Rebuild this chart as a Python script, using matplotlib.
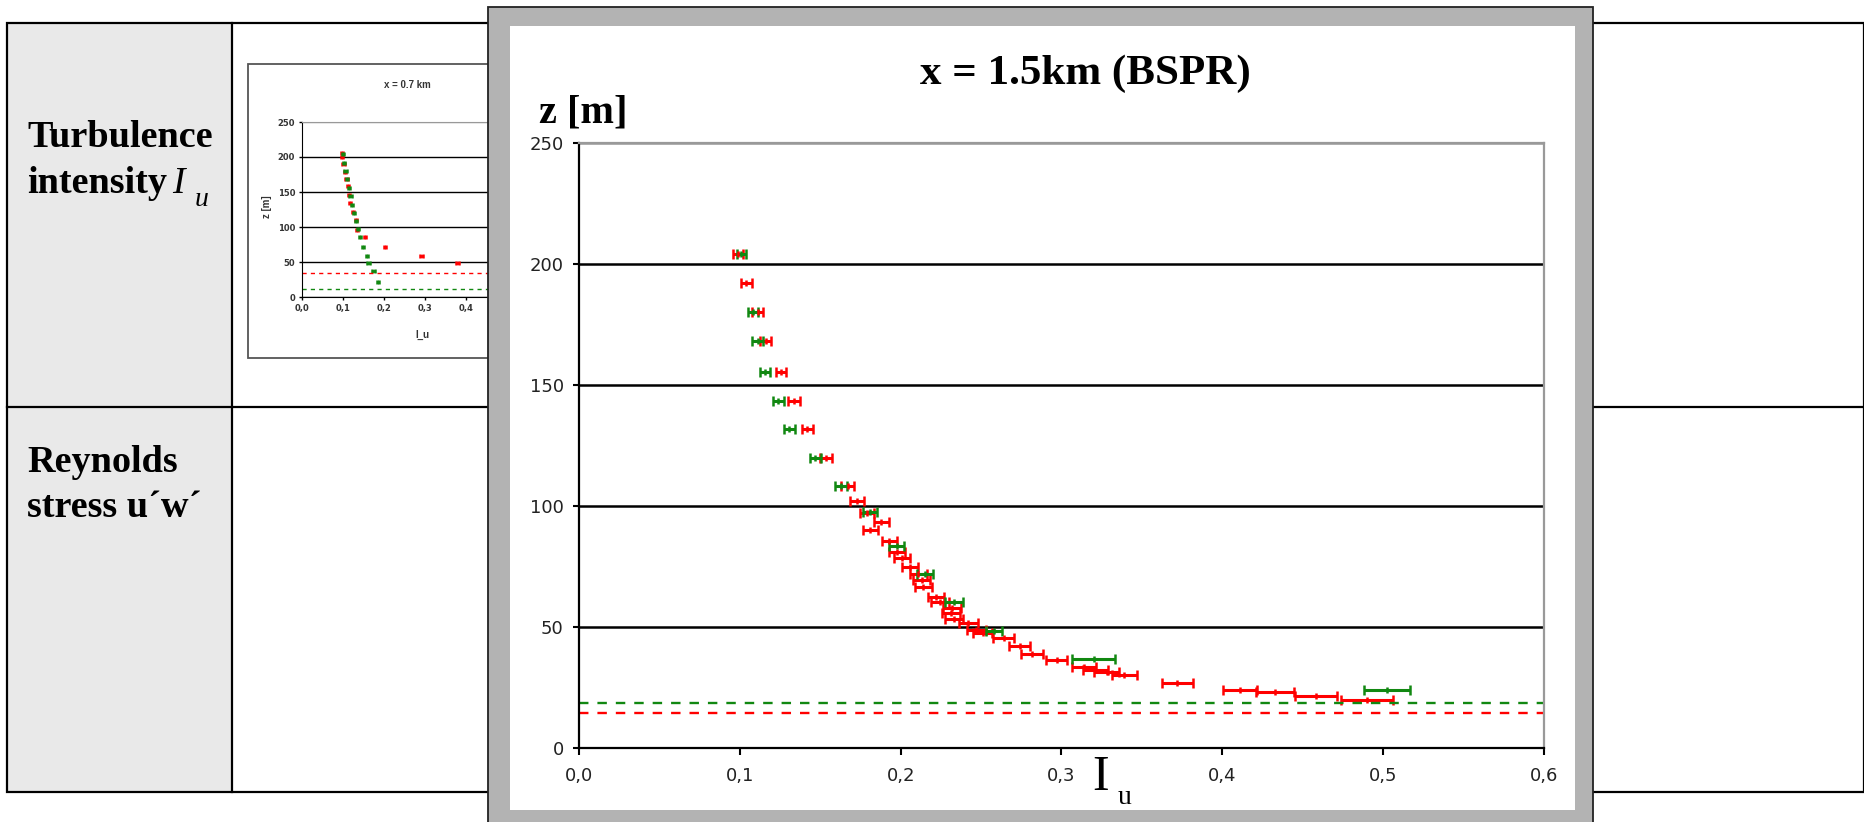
import numpy as np
import matplotlib
matplotlib.use('Agg')
import matplotlib.pyplot as plt
from matplotlib.patches import Rectangle
from matplotlib.ticker import FuncFormatter

# main chart: x = 1.5 km (BSPR), turbulence intensity profile
red_z = [204, 192, 180, 168, 155.5, 143.5, 132, 120, 108.4, 102, 97, 93.5, 90, 85.5,
         81, 78.4, 75, 71.8, 69.4, 66.7, 62.5, 60.5, 58, 55.6, 53.2, 51.5, 48.8, 47.5,
         45.5, 42, 39, 36.5, 33.3, 32.4, 31.5, 30.2, 27, 24, 23.3, 21.6, 19.8]
red_iu = [0.099, 0.104, 0.111, 0.116, 0.1256, 0.1337, 0.142, 0.1536, 0.167, 0.173, 0.179,
          0.188, 0.181, 0.193, 0.1975, 0.2006, 0.206, 0.211, 0.213, 0.214, 0.222, 0.2245,
          0.232, 0.231, 0.233, 0.242, 0.247, 0.251, 0.264, 0.274, 0.2815, 0.297, 0.314,
          0.321, 0.328, 0.339, 0.372, 0.411, 0.433, 0.458, 0.490]
red_err = [0.003, 0.0033, 0.0033, 0.0034, 0.0034, 0.0035, 0.0036, 0.0037, 0.004, 0.0045,
           0.0045, 0.0048, 0.0046, 0.0048, 0.005, 0.005, 0.005, 0.0052, 0.0052, 0.0053,
           0.0052, 0.0055, 0.0056, 0.0056, 0.0056, 0.006, 0.006, 0.006, 0.0063, 0.0067,
           0.0068, 0.0066, 0.0075, 0.0078, 0.008, 0.0077, 0.0095, 0.0106, 0.0118, 0.013, 0.016]

green_z = [204, 180, 168, 155.5, 143.5, 132, 120, 108.4, 97.5, 83.5, 71.8, 60.5, 48.5, 36.8, 24]
green_iu = [0.101, 0.108, 0.111, 0.1157, 0.124, 0.1306, 0.147, 0.163, 0.181, 0.1975, 0.215,
            0.233, 0.258, 0.320, 0.5025]
green_err = [0.003, 0.003, 0.0033, 0.0033, 0.0033, 0.0034, 0.0035, 0.0037, 0.0042, 0.0048,
             0.005, 0.0055, 0.0052, 0.0135, 0.0144]

red_height = 14.3
green_height = 18.6

x_ticks = [0.0, 0.1, 0.2, 0.3, 0.4, 0.5, 0.6]
z_ticks = [0, 50, 100, 150, 200, 250]

# thumbnail: x = 0.7 km
thumb_red_z = [205, 200, 190, 179, 168, 158, 146, 134, 122, 110, 96, 86, 71, 59, 48]
thumb_red_iu = [0.097, 0.098, 0.101, 0.105, 0.108, 0.112, 0.115, 0.117, 0.125, 0.132,
                0.134, 0.154, 0.202, 0.292, 0.379]
thumb_green_z = [204, 192, 180, 168, 156, 144, 132, 120, 108, 97, 86, 71, 58, 48, 37, 22]
thumb_green_iu = [0.100, 0.103, 0.106, 0.110, 0.114, 0.118, 0.122, 0.127, 0.132, 0.137,
                  0.141, 0.149, 0.158, 0.162, 0.174, 0.185]
thumb_red_height = 34
thumb_green_height = 11

RED = '#ff0000'
GREEN = '#118811'
W, H = 1865, 822


def comma_fmt(x, pos):
  return f'{x:.1f}'.replace('.', ',')


def fig_rect(left, top, right, bottom):
  # pixel box (from top-left) -> figure fraction
  return [left / W, 1 - bottom / H, (right - left) / W, (bottom - top) / H]


def pixel_axes(fig, zorder):
  ax = fig.add_axes([0, 0, 1, 1], zorder=zorder)
  ax.set_xlim(0, W)
  ax.set_ylim(H, 0)
  ax.axis('off')
  ax.patch.set_visible(False)
  return ax


def draw_table(ax):
  ax.add_patch(Rectangle((7, 23), 225, 769, facecolor='#e9e9e9', edgecolor='none'))
  ax.add_patch(Rectangle((7, 23), 1857, 769, facecolor='none', edgecolor='black', lw=1.6))
  ax.plot([7, 1864], [407, 407], color='black', lw=1.6)
  ax.plot([232, 232], [23, 792], color='black', lw=1.6)

  serif = 'Liberation Serif'
  ax.text(27, 147, 'Turbulence', family=serif, weight='bold', fontsize=27.5, va='baseline')
  ax.text(27, 193, 'intensity', family=serif, weight='bold', fontsize=27.5, va='baseline')
  ax.text(172, 193, 'I', family=serif, style='italic', fontsize=27, va='baseline')
  ax.text(195, 206, 'u', family=serif, style='italic', fontsize=20, va='baseline')
  ax.text(27, 472, 'Reynolds', family=serif, weight='bold', fontsize=27.5, va='baseline')
  ax.text(27, 517, 'stress u\u00b4w\u00b4', family=serif, weight='bold', fontsize=27.5, va='baseline')

  # thumbnail frame
  ax.add_patch(Rectangle((248, 64), 400, 294, facecolor='white', edgecolor='#555555', lw=1.3))
  ax.text(407, 85, 'x = 0.7 km', family='Liberation Sans', weight='bold', fontsize=7,
          ha='center', va='center', color='#333333')
  ax.text(267, 207, 'z [m]', family='Liberation Sans', weight='bold', fontsize=7,
          ha='center', va='center', rotation=90, color='#333333')
  ax.text(422, 335, 'I_u', family='Liberation Sans', weight='bold', fontsize=7,
          ha='center', va='center', color='#333333')


def thumbnail(fig):
  ax = fig.add_axes(fig_rect(302, 122, 548, 297), zorder=1)
  ax.patch.set_visible(False)
  ax.set_xlim(0, 0.6)
  ax.set_ylim(0, 250)
  ax.errorbar(thumb_red_iu, thumb_red_z, xerr=0.003, fmt='none', ecolor=RED,
              elinewidth=2, capsize=1.4, capthick=1.8)
  ax.errorbar(thumb_green_iu, thumb_green_z, xerr=0.003, fmt='none', ecolor=GREEN,
              elinewidth=2, capsize=1.4, capthick=1.8)
  ax.axhline(thumb_red_height, color=RED, lw=1.0, ls=(0, (3, 3)))
  ax.axhline(thumb_green_height, color=GREEN, lw=1.0, ls=(0, (3, 3)))
  ax.set_yticks(z_ticks)
  ax.set_xticks(x_ticks)
  ax.xaxis.set_major_formatter(FuncFormatter(comma_fmt))
  ax.yaxis.grid(True, color='black', lw=1.0)
  ax.get_ygridlines()[-1].set_color('#999999')
  for s in ['top', 'right']:
    ax.spines[s].set_color('#999999')
  ax.tick_params(labelsize=6, length=2, width=1, pad=3, labelcolor='#333333')
  for lab in ax.get_xticklabels() + ax.get_yticklabels():
    lab.set_fontweight('bold')


def popup(ax):
  ax.add_patch(Rectangle((488, 7), 1105, 830, facecolor='#b3b3b3', edgecolor='#222222', lw=1.3))
  ax.add_patch(Rectangle((510, 26), 1065, 784, facecolor='white', edgecolor='none'))
  serif = 'Liberation Serif'
  ax.text(1085, 74, 'x = 1.5km (BSPR)', family=serif, weight='bold', fontsize=31,
          ha='center', va='center')
  ax.text(583, 113, 'z [m]', family=serif, weight='bold', fontsize=29,
          ha='center', va='center')
  ax.text(1092, 790, 'I', family=serif, fontsize=36, va='baseline')
  ax.text(1118, 804, 'u', family=serif, fontsize=20, va='baseline')


def main_chart(fig):
  ax = fig.add_axes(fig_rect(579, 143, 1544, 748), zorder=3)
  ax.set_xlim(0, 0.6)
  ax.set_ylim(0, 250)

  ax.errorbar(red_iu, red_z, xerr=red_err, fmt='|', color=RED, ms=5, mew=1.8,
              elinewidth=2.2, capsize=3.5, capthick=2.2)
  ax.errorbar(green_iu, green_z, xerr=green_err, fmt='|', color=GREEN, ms=5, mew=1.8,
              elinewidth=2.2, capsize=3.5, capthick=2.2)
  ax.axhline(green_height, color=GREEN, lw=1.7, ls=(0, (4, 3.8)))
  ax.axhline(red_height, color=RED, lw=1.7, ls=(0, (4, 3.8)))

  ax.set_xticks(x_ticks)
  ax.set_yticks(z_ticks)
  ax.xaxis.set_major_formatter(FuncFormatter(comma_fmt))
  ax.yaxis.grid(True, color='black', lw=1.8)
  ax.get_ygridlines()[-1].set_color('#999999')
  ax.set_axisbelow(True)
  for s in ['left', 'bottom']:
    ax.spines[s].set_linewidth(1.6)
  for s in ['top', 'right']:
    ax.spines[s].set_color('#999999')
    ax.spines[s].set_linewidth(1.6)
  ax.tick_params(axis='y', length=4, width=1.5, pad=7)
  ax.tick_params(axis='x', length=5, width=1.5, pad=9)
  ax.tick_params(labelsize=13, labelcolor='#222222')


def main():
  fig = plt.figure(figsize=(W / 100, H / 100), dpi=100)
  fig.patch.set_facecolor('white')

  bg = pixel_axes(fig, 0)
  draw_table(bg)
  thumbnail(fig)
  over = pixel_axes(fig, 2)
  popup(over)
  main_chart(fig)

  fig.savefig('out.png', dpi=100)
  plt.close()


if __name__ == '__main__':
  main()
